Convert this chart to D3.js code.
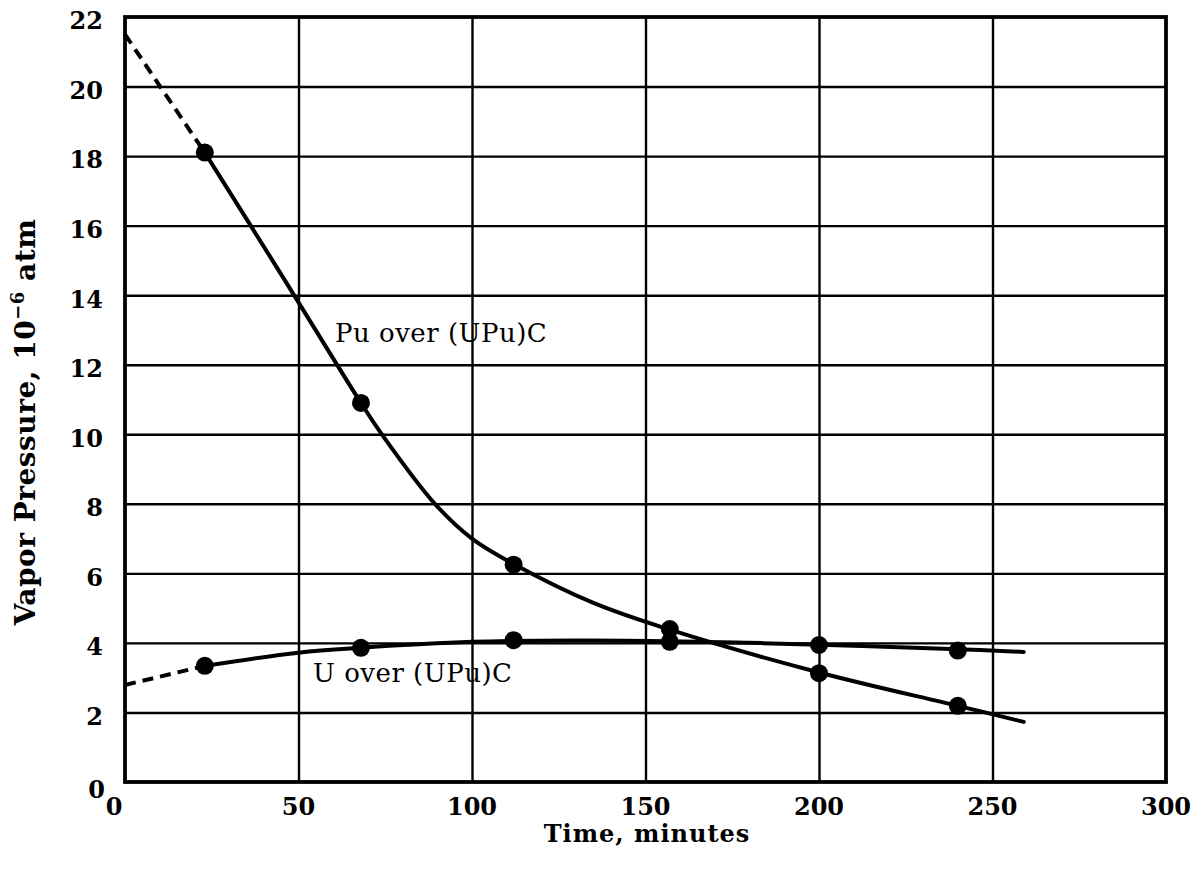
<!DOCTYPE html>
<meta charset="utf-8">
<body style="margin:0;background:#fff">
<div id="chart"></div>
</body>
<script src="https://cdn.jsdelivr.net/npm/d3@7"></script>
<script>
	const width = 1202,
	    height = 873;

	// measured points (time in minutes, pressure in 1e-6 atm)
	const puPoints = [[23, 18.1], [68, 10.9], [112, 6.25], [157, 4.4], [200, 3.13], [240, 2.19]];
	const uPoints = [[23, 3.34], [68, 3.86], [112, 4.08], [157, 4.03], [200, 3.94], [240, 3.78]];

	// drawn curves
	const puCurve = [[23, 18.1], [45, 14.6], [68, 10.9], [74, 10], [89.3, 8], [100, 7.0],
	    [112, 6.27], [135, 5.15], [157, 4.38], [200, 3.15], [240, 2.19], [259, 1.73]];
	const uCurve = [[23, 3.34], [50, 3.72], [68, 3.86], [100, 4.03], [130, 4.07], [157, 4.05], [200, 3.95], [240, 3.82], [259, 3.74]];
	// dashed extrapolation back to t = 0
	const puDashed = [[0, 21.5], [23, 18.1]];
	const uDashed = [[0, 2.79], [23, 3.34]];

	const xTicks = [0, 50, 100, 150, 200, 250, 300];
	const yTicks = [0, 2, 4, 6, 8, 10, 12, 14, 16, 18, 20, 22];

	const plotLeft = 125, plotRight = 1166, plotTop = 17, plotBottom = 782;

	const x = d3.scaleLinear().domain([0, 300]).range([plotLeft, plotRight]);
	const y = d3.scaleLinear().domain([0, 22]).range([plotBottom, plotTop]);

	const svg = d3.select("#chart").append("svg")
	    .attr("width", width)
	    .attr("height", height)
	    .style("font-family", "'DejaVu Serif', serif");

	// grid lines
	svg.append("g")
	    .attr("transform", "translate(0," + plotBottom + ")")
	    .call(d3.axisBottom(x).tickValues(xTicks.slice(1, -1)).tickSize(-(plotBottom - plotTop)).tickFormat(""))
	    .call(g => g.select(".domain").remove())
	    .call(g => g.selectAll("line").attr("stroke", "#000").attr("stroke-width", 2.4));

	svg.append("g")
	    .attr("transform", "translate(" + plotLeft + ",0)")
	    .call(d3.axisLeft(y).tickValues(yTicks.slice(1, -1)).tickSize(-(plotRight - plotLeft)).tickFormat(""))
	    .call(g => g.select(".domain").remove())
	    .call(g => g.selectAll("line").attr("stroke", "#000").attr("stroke-width", 2.4));

	// frame
	svg.append("rect")
	    .attr("x", plotLeft)
	    .attr("y", plotTop)
	    .attr("width", plotRight - plotLeft)
	    .attr("height", plotBottom - plotTop)
	    .attr("fill", "none")
	    .attr("stroke", "#000")
	    .attr("stroke-width", 3.8);

	// tick labels
	svg.append("g").selectAll("text")
	    .data(xTicks)
	    .enter().append("text")
	    .attr("x", d => d === 0 ? x(d) - 11 : x(d))
	    .attr("y", 815)
	    .attr("text-anchor", "middle")
	    .style("font-size", "24px")
	    .style("font-weight", "bold")
	    .text(d => d);

	svg.append("g").selectAll("text")
	    .data(yTicks)
	    .enter().append("text")
	    .attr("x", d => d === 0 ? 105 : 103)
	    .attr("y", d => y(d) + (d === 0 ? 8 : 4))
	    .attr("dy", "0.35em")
	    .attr("text-anchor", "end")
	    .style("font-size", "24px")
	    .style("font-weight", "bold")
	    .text(d => d);

	// axis titles
	svg.append("text")
	    .attr("x", 647)
	    .attr("y", 842)
	    .attr("text-anchor", "middle")
	    .style("font-size", "24px")
	    .style("font-weight", "bold")
	    .style("letter-spacing", "1px")
	    .text("Time, minutes");

	const yTitle = svg.append("text")
	    .attr("transform", "translate(35,422) rotate(-90)")
	    .attr("text-anchor", "middle")
	    .style("font-size", "28px")
	    .style("font-weight", "bold")
	    .style("letter-spacing", "0.5px");
	yTitle.append("tspan").text("Vapor Pressure, 10");
	yTitle.append("tspan").attr("dy", -11).style("font-size", "18px").text("−6");
	yTitle.append("tspan").attr("dy", 11).text(" atm");

	// curves
	const line = d3.line()
	    .x(d => x(d[0]))
	    .y(d => y(d[1]))
	    .curve(d3.curveCatmullRom.alpha(0.5));

	[puCurve, uCurve].forEach(c => {
	    svg.append("path")
	        .attr("d", line(c))
	        .attr("fill", "none")
	        .attr("stroke", "#000")
	        .attr("stroke-width", 4)
	        .attr("stroke-linecap", "round");
	});

	[puDashed, uDashed].forEach(c => {
	    svg.append("path")
	        .attr("d", line(c))
	        .attr("fill", "none")
	        .attr("stroke", "#000")
	        .attr("stroke-width", 4)
	        .attr("stroke-dasharray", "11,7");
	});

	// markers
	svg.append("g").selectAll("circle")
	    .data(puPoints.concat(uPoints))
	    .enter().append("circle")
	    .attr("cx", d => x(d[0]))
	    .attr("cy", d => y(d[1]))
	    .attr("r", 9)
	    .attr("fill", "#000");

	// curve labels
	svg.append("text")
	    .attr("x", 335)
	    .attr("y", 342)
	    .style("font-size", "26px")
	    .style("letter-spacing", "0.5px")
	    .text("Pu over (UPu)C");

	svg.append("text")
	    .attr("x", 313)
	    .attr("y", 682)
	    .style("font-size", "26px")
	    .style("letter-spacing", "0.5px")
	    .text("U over (UPu)C");
</script>
